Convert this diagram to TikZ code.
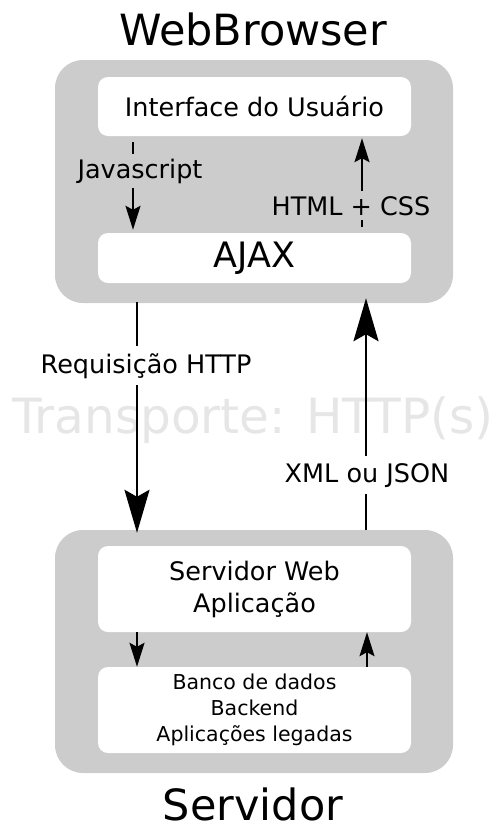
\documentclass[tikz,border=0pt]{standalone}
\usepackage{fontspec}
\setmainfont{DejaVu Sans}
\usetikzlibrary{arrows.meta}
\definecolor{boxgray}{HTML}{CCCCCC}
\definecolor{transgray}{HTML}{E6E6E6}
\tikzset{
  outerbox/.style={fill=boxgray, rounded corners=28pt, minimum width=398pt, minimum height=243pt, inner sep=0pt},
  innerbox/.style={fill=white, rounded corners=10pt, minimum width=313pt, inner sep=0pt, align=center},
  title/.style={anchor=base, font=\fontsize{43}{50}\selectfont, inner sep=0pt},
  lbl/.style={anchor=base, font=\fontsize{25.5}{30}\selectfont, inner xsep=3pt},
  bigarr/.style={line width=2.4pt, -{Stealth[length=43pt,width=25pt,inset=7pt]}},
  smallarr/.style={line width=1.6pt, -{Stealth[length=24pt,width=15pt,inset=4pt]}},
}
\begin{document}
\begin{tikzpicture}[x=1pt,y=-1pt]
\useasboundingbox (0,0) rectangle (496,831);
% titles
\node[title] (tweb) at (253,45) {WebBrowser};
\node[title] (tserv) at (253,820) {Servidor};
% outer boxes
\node[outerbox] (gray1) at (254,181.5) {};
\node[outerbox] (gray2) at (254,651.5) {};
% inner boxes
\node[innerbox, minimum height=59pt, font=\fontsize{25.5}{32}\selectfont] (ui) at (254.5,106.5) {Interface do Usuário};
\node[innerbox, minimum height=50pt, font=\fontsize{35}{40}\selectfont] (ajax) at (254.5,258) {AJAX};
\node[innerbox, minimum height=86pt, font=\fontsize{25.5}{32}\selectfont] (web) at (254.5,589) {Servidor Web\\Aplicação};
\node[innerbox, minimum height=86pt, font=\fontsize{20.5}{26}\selectfont] (db) at (254.5,710) {Banco de dados\\Backend\\Aplicações legadas};
% transport text
\node[anchor=base, text=transgray, font=\fontsize{48.5}{54}\selectfont, inner sep=0pt] (trans) at (253,433) {Transporte: HTTP(s)};
% arrows inside browser
\draw[smallarr] ([xshift=-121.5pt,yshift=-6pt]ui.south) -- ([xshift=-121.5pt,yshift=3pt]ajax.north);
\draw[smallarr] ([xshift=107.5pt,yshift=6pt]ajax.north) -- ([xshift=107.5pt,yshift=-2pt]ui.south);
\node[lbl, fill=boxgray, inner ysep=5pt] (ljs) at (140,178) {Javascript};
\node[lbl, fill=boxgray, inner ysep=5pt] (lhtml) at (351,215) {HTML + CSS};
% big arrows
\draw[bigarr] ([xshift=-117pt,yshift=1pt]gray1.south) -- ([xshift=-117pt,yshift=-3pt]gray2.north);
\draw[bigarr] ([xshift=112pt]gray2.north) -- ([xshift=112pt,yshift=5pt]gray1.south);
\node[lbl, fill=white, inner ysep=7pt] (lreq) at (146,373) {Requisição HTTP};
\node[lbl, fill=white, inner ysep=7pt] (lxml) at (367,482) {XML ou JSON};
% arrows inside server
\draw[smallarr] ([xshift=-117.5pt]web.south) -- ([xshift=-117.5pt]db.north);
\draw[smallarr] ([xshift=112.5pt]db.north) -- ([xshift=112.5pt]web.south);
\end{tikzpicture}
\end{document}
